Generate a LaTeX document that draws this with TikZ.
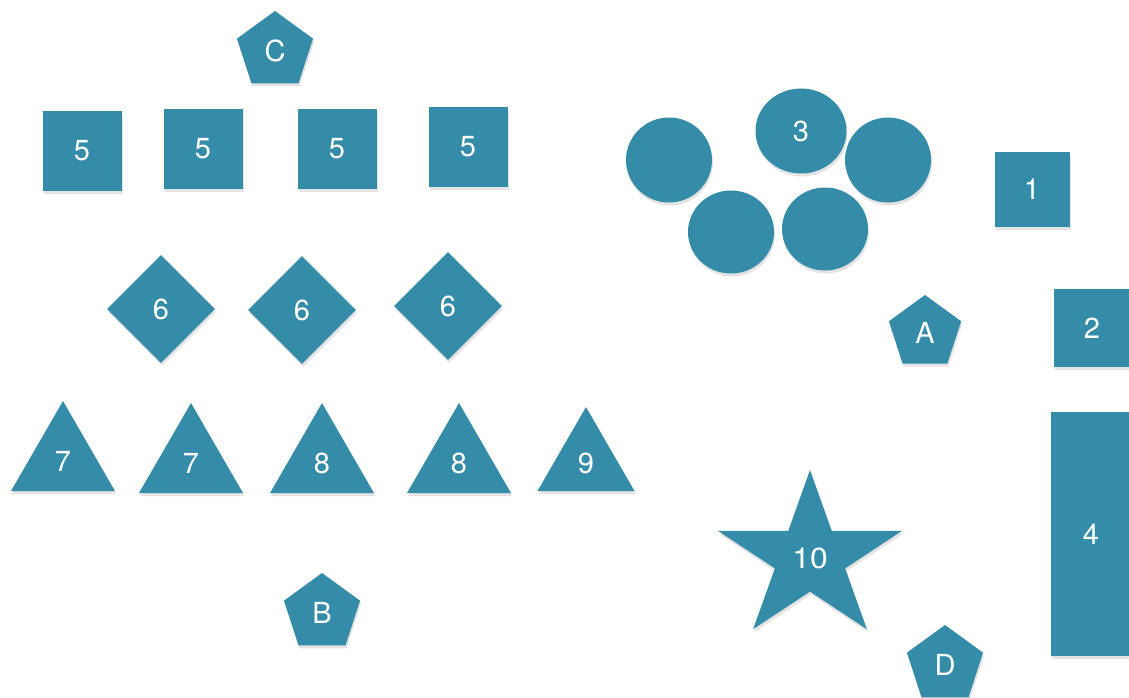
\documentclass[tikz,border=0pt]{standalone}
\usepackage{fontspec}
\setmainfont{TeX Gyre Heros}
\usepackage{tikz}
\usetikzlibrary{shapes.geometric,shadows}
\definecolor{feltblue}{RGB}{52,140,168}

\begin{document}
\begin{tikzpicture}[
  x=1pt, y=-1pt,
  every node/.style={font=\fontsize{29}{31}\selectfont, text=white},
  felt/.style={
    fill=feltblue, draw=none, inner sep=0pt,
    drop shadow={shadow xshift=1pt, shadow yshift=-3pt, opacity=0.22}
  },
  sqbox/.style={felt, rectangle, minimum size=79},
  dmd/.style={felt, diamond, minimum width=108, minimum height=108},
  trinode/.style={felt, regular polygon, regular polygon sides=3, minimum size=120},
  pentnode/.style={felt, regular polygon, regular polygon sides=5, minimum size=80},
  discnode/.style={felt, ellipse, minimum width=86, minimum height=85},
  starnode/.style={felt, star, star points=5, star point ratio=2.62, minimum size=176,
    xscale=1.1, transform shape},
  barnode/.style={felt, rectangle, minimum width=80, minimum height=244}
]
\useasboundingbox (0,0) rectangle (1129,698);

%% Pentagones
\node[pentnode] (C) at (275, 51)  {C};
\node[pentnode, minimum size=76] (A) at (925, 333) {A};
\node[pentnode] (B) at (322, 613) {B};
\node[pentnode] (D) at (945, 665) {D};

%% Carres 5
\node[sqbox] (sqA) at (82, 151)  {5};
\node[sqbox] (sqB) at (203, 149) {5};
\node[sqbox] (sqC) at (337, 149) {5};
\node[sqbox] (sqD) at (468, 147) {5};

%% Losanges 6
\node[dmd] (dmA) at (161, 309) {6};
\node[dmd] (dmB) at (302, 310) {6};
\node[dmd] (dmC) at (448, 306) {6};

%% Triangles
\node[trinode] (trA) at (63, 461)  {7};
\node[trinode] (trB) at (191, 463) {7};
\node[trinode] (trC) at (322, 463) {8};
\node[trinode] (trD) at (459, 463) {8};
\node[trinode, minimum size=112] (trE) at (586, 463) {9};

%% Disques
\node[discnode] (dcA) at (669, 160) {};
\node[discnode, minimum width=91] (dcB) at (801, 131) {3};
\node[discnode] (dcC) at (888, 160) {};
\node[discnode, minimum height=83] (dcD) at (731, 232) {};
\node[discnode, minimum height=83] (dcE) at (825, 229) {};

%% Colonne de droite
\node[sqbox, minimum size=75] (one) at (1032, 189) {1};
\node[sqbox, minimum width=76, minimum height=78] (two) at (1092, 328) {2};
\node[barnode] (four) at (1091, 534) {4};

%% Etoile
\node[starnode] (ten) at (810, 558) {10};

\end{tikzpicture}
\end{document}
